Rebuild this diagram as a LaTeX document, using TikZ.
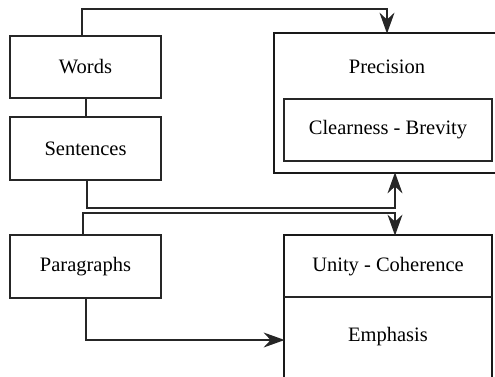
\documentclass[tikz,border=0pt]{standalone}
\usepackage{fontspec}
\setmainfont{Liberation Serif}
\newfontfamily\tfont{Liberation Serif}
\usetikzlibrary{arrows.meta}
\begin{document}
\begin{tikzpicture}[x=1pt,y=-1pt,
  thinbox/.style={draw=black!85,line width=1.4pt,inner sep=0pt},
  thickbox/.style={draw=black!90,line width=2.8pt,inner sep=0pt},
  lbl/.style={font=\tfont\fontsize{20.5}{24}\selectfont,inner sep=0pt},
  conn/.style={draw=black!85,line width=1.4pt},
  arr/.style={conn,shorten >=-2pt,-{Stealth[length=21pt,width=15pt,inset=7pt]}}]
\useasboundingbox (0,0) rectangle (495,376);
\clip (0,0) rectangle (495,376);
% left boxes
\node[thinbox,lbl,minimum width=151pt,minimum height=62pt] (words) at (85.5,67) {Words};
\node[thinbox,lbl,minimum width=151pt,minimum height=63pt] (sent) at (85.5,148.5) {Sentences};
\node[thinbox,lbl,minimum width=151pt,minimum height=63pt] (para) at (85.5,266.5) {Paragraphs};
% Precision
\node[thickbox,minimum width=226pt,minimum height=140pt] (prec) at (387,103) {};
\node[lbl] (prectext) at (387,67) {Precision};
\node[thinbox,lbl,minimum width=208pt,minimum height=62pt] (clear) at (388,130) {Clearness - Brevity};
% Unity / Emphasis
\node[thickbox,minimum width=208pt,minimum height=180pt] (ubox) at (388,325) {};
\draw[line width=2pt,black!85] (284,297) -- (492,297);
\node[lbl] (unity) at (388,267) {Unity - Coherence};
\node[lbl] (emph) at (388,337) {Emphasis};
% connectors
\coordinate (t1) at (200,9);
\coordinate (t2) at (200,208);
\coordinate (t3) at (200,213);
\coordinate (t4) at (200,340);
\draw[conn] ([xshift=0.5pt]words.south) -- ([xshift=0.5pt]sent.north);
\draw[arr] ([xshift=-3.5pt]words.north) |- (t1) -| (prec.north);
\draw[arr] ([xshift=1.5pt]sent.south) |- (t2) -| ([xshift=8pt]prec.south);
\draw[arr] ([xshift=-2.5pt]para.north) |- (t3) -| ([xshift=7pt]ubox.north);
\draw[arr] ([xshift=0.5pt]para.south) |- (t4) -- (t4 -| ubox.west);
\end{tikzpicture}
\end{document}
